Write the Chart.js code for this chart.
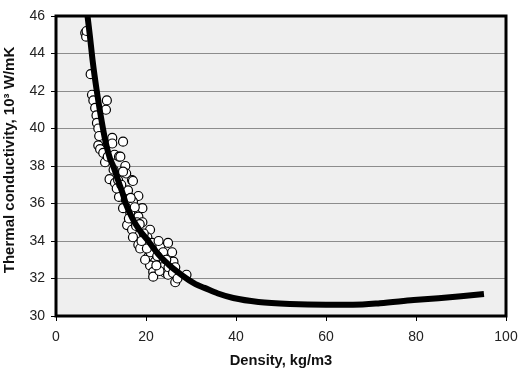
<!DOCTYPE html>
<html>
<head>
<meta charset="utf-8">
<script src="https://cdn.jsdelivr.net/npm/chart.js@4"></script>
<style>
html,body{margin:0;padding:0;background:#fff;}
#wrap{width:528px;height:369px;position:relative;}
</style>
</head>
<body>
<div id="wrap"><canvas id="c" width="528" height="369"></canvas></div>
<script>
// Measured data (open circles)
const measDensity = [6.5,6.7,6.8,7.7,8.0,8.3,8.7,11.3,11.1,9.0,9.1,9.4,9.6,9.4,9.8,10.5,12.5,12.5,14.9,10.9,11.5,13.0,14.0,14.3,15.4,15.6,14.9,11.9,13.1,13.8,16.9,17.1,12.8,16.0,14.0,18.3,17.1,19.2,14.9,16.5,18.3,15.8,19.2,20.9,16.9,17.1,20.3,18.3,18.7,21.4,23.2,24.9,23.8,25.8,20.5,22.0,20.9,23.6,26.1,21.6,24.3,26.5,26.5,29.0,21.6,24.9,15.5,17.5,18.0,19.5,20.0,21.0,22.5,23.0,25.0,26.0,19.8,22.8,17.8,13.5,14.5,16.2,20.2,24.5,27.0,22.3,19.0,18.6,16.6];
const measConductivity = [45.1,44.9,45.2,42.9,41.8,41.5,41.1,41.5,41.0,40.7,40.3,40.0,39.6,39.1,38.9,38.7,39.5,39.2,39.3,38.2,38.5,38.6,38.5,38.5,38.0,37.6,37.7,37.3,37.1,37.25,37.25,37.2,37.8,36.7,36.35,36.4,36.1,35.75,35.75,35.5,35.3,34.85,35.0,34.6,34.6,34.2,34.2,33.8,33.6,33.9,33.7,33.9,33.4,33.4,33.15,32.9,32.7,32.6,32.9,32.35,32.3,32.6,31.8,32.2,32.1,32.2,36.2,35.8,35.0,34.4,34.0,33.4,33.2,32.4,32.6,32.3,33.0,34.0,34.8,36.8,37.0,35.2,33.6,33.0,32.0,32.7,34.0,34.9,36.3];

// Fitted curve (thick black line)
const fitDensity = [7.0,7.5,8.2,9.0,10,11,12,12.7,14,15,15.5,17,18.5,20.5,22.7,25,27,29,31,33,36,39.4,45,52,60,66,72,79.5,85,90,95.1];
const fitConductivity = [46.0,45.0,43.5,42.1,40.6,39.3,38.4,38.0,37.1,36.4,36.0,35.2,34.6,34.0,33.3,32.75,32.35,32.0,31.7,31.5,31.2,30.96,30.75,30.64,30.6,30.6,30.68,30.85,30.95,31.05,31.17];

const xTicks = [0,20,40,60,80,100];
const yTicks = [30,32,34,36,38,40,42,44,46];
const xTitle = 'Density, kg/m3';
const yTitle = 'Thermal conductivity, 10³ W/mK';

const measPts = measDensity.map((d,i)=>({x:d,y:measConductivity[i]}));
const fitPts = fitDensity.map((d,i)=>({x:d,y:fitConductivity[i]}));

const framePlugin = {
  id:'frame',
  beforeDraw(chart){
    const a = chart.chartArea, ctx = chart.ctx;
    ctx.save();
    ctx.fillStyle = '#efefef';
    ctx.fillRect(a.left, a.top, a.right-a.left, a.bottom-a.top);
    ctx.restore();
  },
  afterDraw(chart){
    const a = chart.chartArea, ctx = chart.ctx;
    ctx.save();
    ctx.strokeStyle = '#000';
    ctx.lineWidth = 3;
    ctx.strokeRect(a.left, a.top, a.right-a.left, a.bottom-a.top);
    // y-axis title
    ctx.translate(10, 160);
    ctx.rotate(-Math.PI/2);
    ctx.fillStyle = '#111';
    ctx.font = 'bold 15px "Liberation Sans", Arial';
    ctx.textAlign = 'center';
    ctx.textBaseline = 'middle';
    ctx.fillText(yTitle, 0, 0);
    ctx.restore();
  }
};

new Chart(document.getElementById('c'), {
  type:'scatter',
  data:{
    datasets:[
      {
        label:'fit',
        data:fitPts,
        showLine:true,
        borderColor:'#000',
        borderWidth:6,
        pointRadius:0,
        fill:false,
        cubicInterpolationMode:'monotone',
        order:0
      },
      {
        label:'measured',
        data:measPts,
        pointRadius:4.5,
        pointBorderWidth:1.2,
        pointBorderColor:'#000',
        pointBackgroundColor:'#fff',
        showLine:false,
        order:1
      }
    ]
  },
  options:{
    responsive:false,
    animation:false,
    devicePixelRatio:1,
    layout:{padding:{top:16,right:22,left:0,bottom:0}},
    plugins:{legend:{display:false},tooltip:{enabled:false}},
    scales:{
      x:{
        type:'linear',
        min:0,max:100,
        afterBuildTicks(s){ s.ticks = xTicks.map(v=>({value:v})); },
        afterFit(s){ s.height = 53; },
        grid:{display:true,drawOnChartArea:false,drawTicks:true,tickLength:5,tickColor:'#000',color:'#000'},
        border:{display:false},
        ticks:{color:'#222',font:{family:'Liberation Sans, Arial',size:14},padding:8,maxRotation:0},
        title:{display:true,text:xTitle,color:'#111',font:{family:'Liberation Sans, Arial',size:14.7,weight:'bold'},padding:{top:0,bottom:-1}}
      },
      y:{
        type:'linear',
        min:30,max:46,
        afterBuildTicks(s){ s.ticks = yTicks.map(v=>({value:v})); },
        afterFit(s){ s.width = 56; },
        grid:{display:true,drawOnChartArea:true,drawTicks:true,tickLength:5,tickColor:'#000',color:'#8c8c8c',lineWidth:1},
        border:{display:false},
        ticks:{color:'#222',font:{family:'Liberation Sans, Arial',size:14},padding:6},
        title:{display:false}
      }
    }
  },
  plugins:[framePlugin]
});
</script>
</body>
</html>
